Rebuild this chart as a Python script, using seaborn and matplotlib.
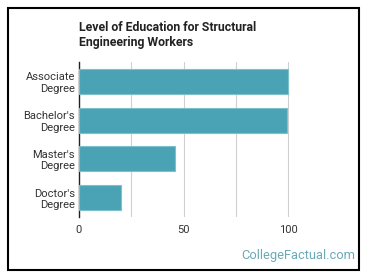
import matplotlib
matplotlib.use("Agg")
import matplotlib.pyplot as plt
import seaborn as sns
import pandas as pd
from matplotlib.patches import Rectangle

categories = ["Associate\nDegree", "Bachelor's\nDegree", "Master's\nDegree", "Doctor's\nDegree"]
values = [100, 99.5, 46, 20]
xticks = [0, 50, 100]

sns.set_theme(style="white")
plt.rcParams['font.family'] = ['Roboto', 'DejaVu Sans']

df = pd.DataFrame({"level": categories, "value": values})

fig = plt.figure(figsize=(3.7, 2.78), dpi=100)
ax = fig.add_axes([79/370, 1-217/278, 251/370, 155/278])

sns.barplot(data=df, y="level", x="value", orient="h", color="#4aa3b5",
            saturation=1, width=0.65, edgecolor="#7cc0cc", linewidth=0.8, ax=ax, zorder=3)

ax.set_xlim(0, 120)
ax.set_xticks(xticks)
for g in [25, 50, 75, 100]:
    ax.axvline(g, color="#d0d0d0", lw=0.8, zorder=1)
ax.set_xlabel("")
ax.set_ylabel("")
for s in ["top", "right", "bottom"]:
    ax.spines[s].set_visible(False)
ax.spines["left"].set_color("#222222")
ax.spines["left"].set_linewidth(1.0)
ax.tick_params(axis="both", length=0, labelsize=8, colors="#333333", pad=3)
ax.tick_params(axis="x", pad=6)
for lbl in ax.get_yticklabels():
    lbl.set_horizontalalignment("right")
    lbl.set_multialignment("right")

fig.text(79/370, 1-21/278, "Level of Education for Structural\nEngineering Workers",
         fontsize=8.8, fontweight="bold", color="#222222", va="top", ha="left", linespacing=1.2)
fig.text(355/370, 1-256/278, "CollegeFactual.com", fontsize=9.3, color="#6aaab8",
         ha="right", va="center")

fig.patches.append(Rectangle((8/370, 8/278), 351/370, 262/278, transform=fig.transFigure,
                             fill=False, edgecolor="black", linewidth=1.5))

fig.savefig("out.png", dpi=100)
